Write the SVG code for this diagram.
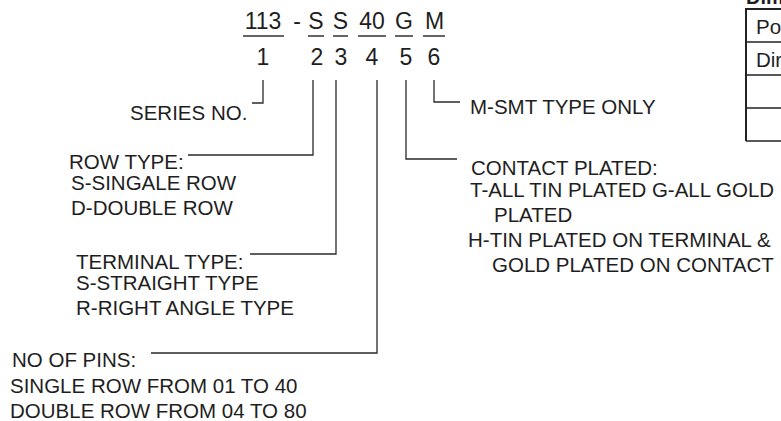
<svg xmlns="http://www.w3.org/2000/svg" width="781" height="421" viewBox="0 0 781 421">
<style>
text{font-family:"Liberation Sans",Arial,Helvetica,sans-serif;fill:#1e1e1e}
.code{font-size:23px;text-anchor:middle}
.lbl{font-size:20.5px}
.ul{stroke:#333;stroke-width:1.3;fill:none}
.conn path{stroke:#2a2a2a;stroke-width:1.3;fill:none}
.tbl{stroke:#222;fill:none}
</style>
<rect width="781" height="421" fill="#fff"/>
<g id="code">
<text class="code" x="263" y="29">113</text>
<text class="code" x="297" y="29">-</text>
<text class="code" x="316" y="29">S</text>
<text class="code" x="340.5" y="29">S</text>
<text class="code" x="372" y="29">40</text>
<text class="code" x="404" y="29">G</text>
<text class="code" x="434.5" y="29">M</text>
<path class="ul" d="M243 36H284M308 36H324M333 36H348M358 36H386M395 36H413M423 36H445"/>
</g>
<g id="positions">
<text class="code" x="263" y="65">1</text>
<text class="code" x="317" y="65">2</text>
<text class="code" x="341" y="65">3</text>
<text class="code" x="372" y="65">4</text>
<text class="code" x="406" y="65">5</text>
<text class="code" x="434" y="65">6</text>
</g>
<g id="connectors" class="conn">
<path d="M263 80V103H252"/>
<path d="M313 80V155H188"/>
<path d="M336 80V254H250"/>
<path d="M377 80V353H151"/>
<path d="M406 80V159H457"/>
<path d="M434 80V102H460"/>
</g>
<g id="series">
<text class="lbl" x="130" y="120">SERIES NO.</text>
</g>
<g id="row-type">
<text class="lbl" x="69" y="169">ROW TYPE:</text>
<text class="lbl" x="71" y="190">S-SINGALE ROW</text>
<text class="lbl" x="71" y="215">D-DOUBLE ROW</text>
</g>
<g id="terminal-type">
<text class="lbl" x="76" y="269">TERMINAL TYPE:</text>
<text class="lbl" x="76" y="290">S-STRAIGHT TYPE</text>
<text class="lbl" x="76" y="315">R-RIGHT ANGLE TYPE</text>
</g>
<g id="pins">
<text class="lbl" x="12" y="367">NO OF PINS:</text>
<text class="lbl" x="10" y="393">SINGLE ROW FROM 01 TO 40</text>
<text class="lbl" x="10" y="418">DOUBLE ROW FROM 04 TO 80</text>
</g>
<g id="smt">
<text class="lbl" x="470" y="114">M-SMT TYPE ONLY</text>
</g>
<g id="plating">
<text class="lbl" x="471" y="175">CONTACT PLATED:</text>
<text class="lbl" x="470" y="197">T-ALL TIN PLATED G-ALL GOLD</text>
<text class="lbl" x="494" y="222">PLATED</text>
<text class="lbl" x="468" y="247">H-TIN PLATED ON TERMINAL &amp;</text>
<text class="lbl" x="492" y="272">GOLD PLATED ON CONTACT</text>
</g>
<g id="table">
<text x="746" y="4" style="font-size:20px;font-weight:bold">Dim</text>
<path class="tbl" stroke-width="2" d="M746 141V9H790"/>
<path class="tbl" stroke-width="1.3" d="M746 42H790M746 75H790M746 108H790M746 141H790"/>
<text class="lbl" x="756" y="34">Po</text>
<text class="lbl" x="756" y="67">Dir</text>
</g>
</svg>
